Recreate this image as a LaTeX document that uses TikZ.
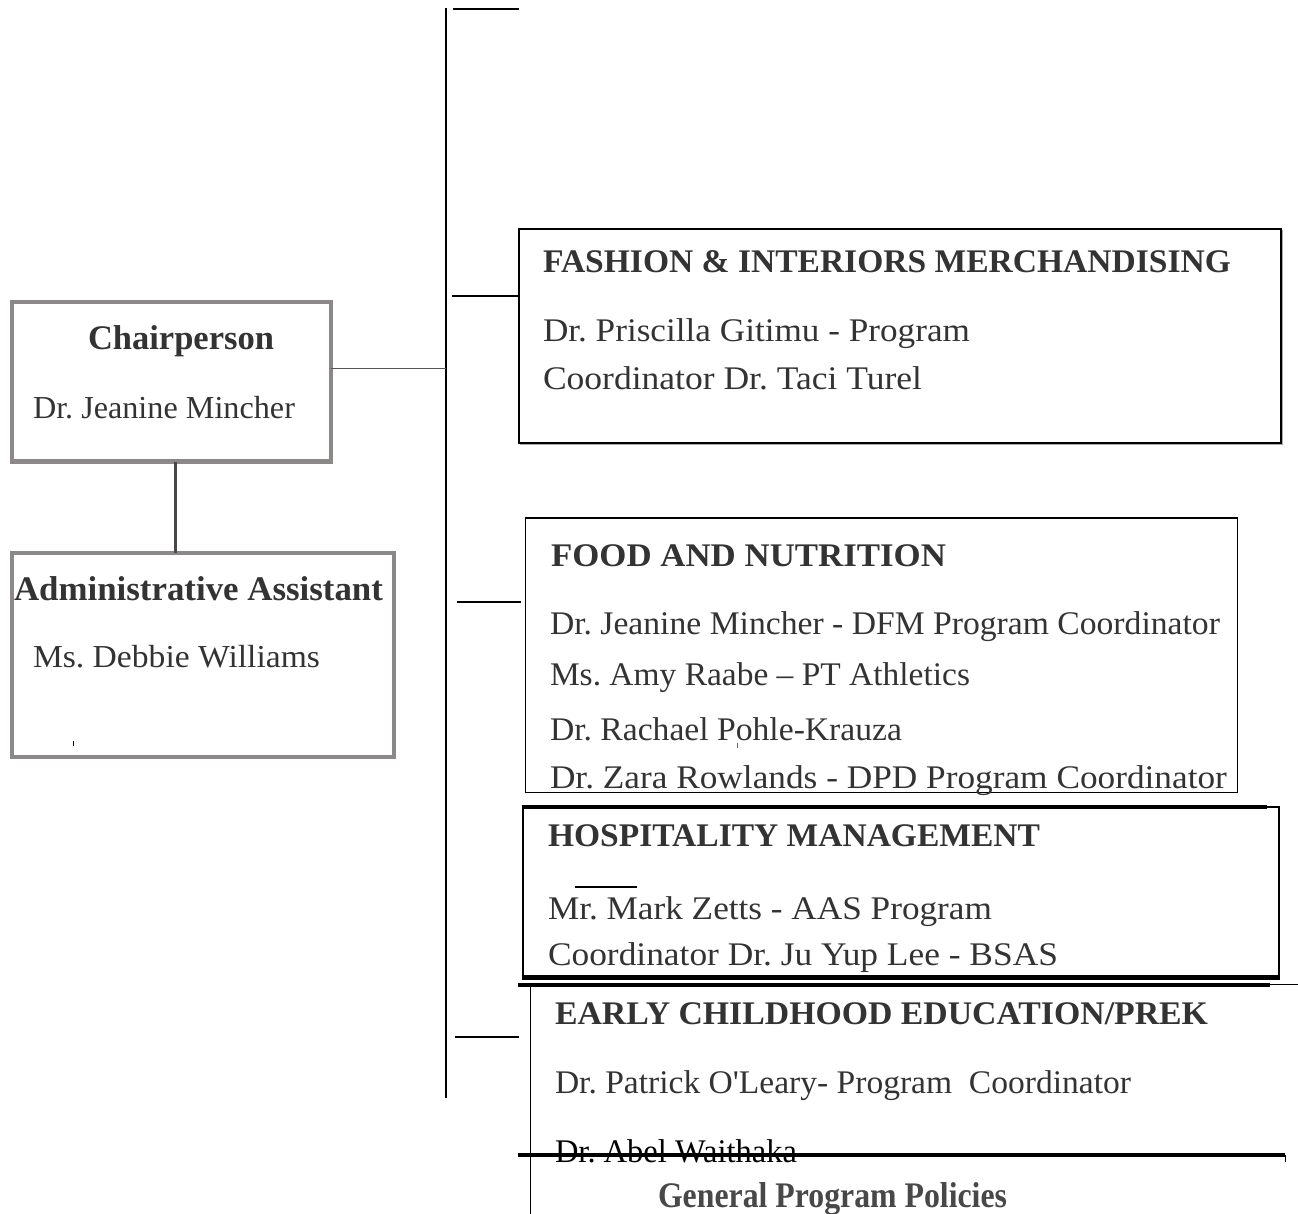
\documentclass[tikz,border=0pt]{standalone}
\usepackage{fontspec}
\usepackage{graphicx}
\setmainfont{Liberation Serif}
\definecolor{txtgray}{HTML}{333333}
\definecolor{gppgray}{HTML}{484848}
\definecolor{boxgray}{HTML}{8C8888}
\definecolor{linkgray}{HTML}{555555}
\definecolor{shadowgray}{HTML}{AAAAAA}
\newcommand{\fitw}[2]{\resizebox{#1pt}{\height}{#2}}
\begin{document}
\frenchspacing
\begin{tikzpicture}[x=1pt,y=-1pt,
  every node/.style={inner sep=0pt, outer sep=0pt},
  txt/.style={anchor=base west, text=txtgray, font=\fontsize{33}{40}\selectfont},
  txtl/.style={anchor=base west, text=txtgray, font=\fontsize{32}{38}\selectfont},
  hd/.style={anchor=base west, text=txtgray, font=\fontsize{33}{40}\selectfont\bfseries},
  hdl/.style={anchor=base west, text=txtgray, font=\fontsize{34.5}{40}\selectfont\bfseries},
  graybox/.style={draw=boxgray, line width=4.5pt, rectangle},
  blackbox/.style={draw=black, line width=2pt, rectangle},
  spine/.style={draw=black, line width=2pt},
  tick/.style={draw=black, line width=2pt},
  heavy/.style={draw=black, line width=4pt},
  thin/.style={draw=black, line width=1.5pt},
  ghost/.style={rectangle, draw=none}
]
\useasboundingbox (0,0) rectangle (1298,1214);
\fill[white] (0,0) rectangle (1298,1214);

% ---------- left boxes
\node[graybox, minimum width=319pt, minimum height=159.5pt] (chair) at (171.5,381.75) {};
\node[graybox, line width=4pt, minimum width=382pt, minimum height=204pt] (admin) at (203,655) {};

\node[hdl] (chairT) at (88,350) {\fitw{186}{Chairperson}};
\node[txtl] (chairN) at (33,418) {\fitw{262}{Dr. Jeanine Mincher}};
\node[hdl] (adminT) at (14,600) {\fitw{369}{Administrative Assistant}};
\node[txtl] (adminN) at (33,667) {\fitw{287}{Ms. Debbie Williams}};

% ---------- spine
\coordinate (sTop) at (446,8);
\coordinate (sBot) at (446,1098);
\draw[spine] (sTop) -- (sBot);

% chair connectors
\coordinate (ca) at ([xshift=3.5pt]chair.south);
\draw[draw=linkgray!85!black, line width=3pt] (ca) -- (ca |- admin.north);
\coordinate (cr) at ([yshift=12.75pt]chair.east);
\draw[draw=linkgray, line width=1pt] (cr) -- (cr -| sTop);

% ---------- right boxes
\node[ghost, minimum width=762.5pt, minimum height=214pt] (fash) at (899.75,336) {};
\draw[draw=shadowgray, line width=1.5pt] ([shift={(1.5,1.5)}]fash.north east) -- ([shift={(1.5,1.5)}]fash.south east) -- ([shift={(1.5,1.5)}]fash.south west);
\draw[blackbox] (fash.north west) rectangle (fash.south east);

\node[draw=black, line width=1.8pt, rectangle, minimum width=712pt, minimum height=274.5pt] (food) at (881.5,655.25) {};

\node[ghost, minimum width=758pt, minimum height=171pt] (hosp) at (900.5,892.5) {};
\draw[draw=black, line width=2pt] ([xshift=1pt]hosp.north west) -- ([xshift=1pt]hosp.south west);
\draw[heavy] (hosp.north west) -- ([xshift=-13pt]hosp.north east);
\draw[thin] ([xshift=-13pt]hosp.north east) -- ([xshift=-0.5pt]hosp.north east) -- ([xshift=-0.5pt]hosp.south east);
\draw[draw=black, line width=4.5pt] ([yshift=0.5pt]hosp.south west) -- ([yshift=0.5pt]hosp.south east);

\node[ghost, minimum width=780pt, minimum height=230pt] (ece) at (908,1099.5) {};
\draw[heavy] ([yshift=-0.5pt]ece.north west) -- ([shift={(-28pt,-0.5pt)}]ece.north east);
\draw[thin] ([xshift=-28pt]ece.north east) -- (ece.north east);
\draw[thin] ([xshift=12.5pt]ece.north west) -- ([xshift=12.5pt]ece.south west);

% ---------- ticks from spine
\coordinate (t0) at (453,9);
\draw[tick] (t0) -- (t0 -| fash.west);
\coordinate (t1) at (452,296);
\draw[tick] (t1) -- (t1 -| fash.west);
\coordinate (t2a) at (457,602);
\coordinate (t2b) at (521,602);
\draw[tick] (t2a) -- (t2b);
\coordinate (t3a) at (455,1037);
\coordinate (t3b) at (519,1037);
\draw[tick] (t3a) -- (t3b);

% small stray marks
\coordinate (m1) at (73,741);
\draw[draw=black, line width=0.8pt] (m1) -- ++(0,5);
\coordinate (m2) at (737,743);
\draw[draw=black!60, line width=0.8pt] (m2) -- ++(0,5);
\coordinate (m3a) at (575,887);
\coordinate (m3b) at (637,887);
\draw[draw=black, line width=2pt] (m3a) -- (m3b);

% ---------- right texts
\node[hd] (fashT) at (543,273) {\fitw{688}{FASHION \& INTERIORS MERCHANDISING}};
\node[txt] (fash1) at (543,342) {\fitw{427}{Dr. Priscilla Gitimu - Program}};
\node[txt] (fash2) at (543,390) {\fitw{379}{Coordinator Dr. Taci Turel}};

\node[hd] (foodT) at (551,566) {\fitw{395}{FOOD AND NUTRITION}};
\node[txt] (food1) at (550,634) {\fitw{670}{Dr. Jeanine Mincher - DFM Program Coordinator}};
\node[txt] (food2) at (550,685) {\fitw{420}{Ms. Amy Raabe – PT Athletics}};
\node[txt] (food3) at (550,740) {\fitw{352}{Dr. Rachael Pohle-Krauza}};
\node[txt] (food4) at (550,788) {\fitw{677}{Dr. Zara Rowlands - DPD Program Coordinator}};

\node[hd] (hospT) at (548,846) {\fitw{492}{HOSPITALITY MANAGEMENT}};
\node[txt] (hosp1) at (548,919) {\fitw{444}{Mr. Mark Zetts - AAS Program}};
\node[txt] (hosp2) at (548,965) {\fitw{510}{Coordinator Dr. Ju Yup Lee - BSAS}};

\node[hd] (eceT) at (555,1024) {\fitw{653}{EARLY CHILDHOOD EDUCATION/PREK}};
\node[txt] (ece1) at (555,1093) {\fitw{576}{Dr. Patrick O\textquotesingle Leary- Program~~Coordinator}};
\node[txt, text=black] (ece2) at (555,1162) {\fitw{242}{Dr. Abel Waithaka}};
\node[hd, text=gppgray, font=\fontsize{36}{40}\selectfont\bfseries] (gpp) at (658,1207) {\fitw{349}{General Program Policies}};

% strike line over the last name
\coordinate (strikeL) at (518,1155);
\coordinate (strikeR) at (1285,1155);
\draw[draw=black, line width=3.5pt] (strikeL) -- (strikeR);
\draw[draw=black, line width=1pt] (strikeR) -- ++(0,7);
\end{tikzpicture}
\end{document}
